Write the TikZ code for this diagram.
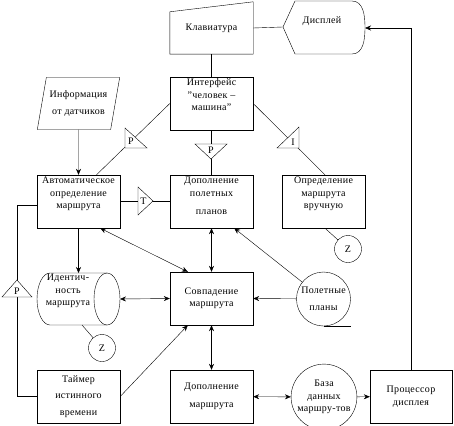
\documentclass[tikz,border=0pt]{standalone}
\usepackage{fontspec}
\setmainfont[LetterSpace=3]{Liberation Serif}
\usetikzlibrary{arrows.meta,shapes.geometric,positioning}

\tikzset{
  txt/.style={align=center, inner sep=1pt, font=\fontsize{10}{12.5}\selectfont},
  blk/.style={draw, minimum width=83pt, minimum height=53pt, txt},
  ring/.style={draw, circle, minimum size=54pt, inner sep=0pt, txt},
  zring/.style={draw, circle, minimum size=27pt, inner sep=0pt, txt},
  tri/.style={draw, fill=white},
  arr/.style={-{Stealth[length=6pt,width=5pt,inset=2pt]}},
  dbl/.style={{Stealth[length=6pt,width=5pt,inset=2pt]}-{Stealth[length=6pt,width=5pt,inset=2pt]}}
}

\begin{document}
\begin{tikzpicture}[x=1pt,y=-1pt]
	\useasboundingbox (0,0) rectangle (454,425);
	% keyboard and display
	\node[txt, minimum width=83pt, minimum height=52pt] (kbd) at (211.5,28) {Клавиатура};
	\draw (kbd.south west) -- ([yshift=-10pt]kbd.north west) -- (kbd.north east) -- (kbd.south east) -- cycle;
	\draw (283,27) -- (295,1) -- (352,1) to[out=0,in=90] (365,27.5) to[out=-90,in=0] (352,54) -- (295,54) -- cycle;
	\node[txt] (disp) at (322,21) {Дисплей};
	\coordinate (dispW) at (283,27);
	\coordinate (dispE) at (365,28);
	% blocks
	\node[blk] (iface) at (211.5,103.5) {};
	\node[txt, below=1pt of iface.north] (iface-t) {Интерфейс\\"человек --\\машина"};
	\node[txt, draw, trapezium, trapezium left angle=73, trapezium right angle=107, trapezium stretches=true, minimum width=83pt, minimum height=52pt] (info) at (78.5,103.5) {Информация\\[4pt]от датчиков};
	\node[blk] (auto) at (78.5,201.5) {};
	\node[txt, below=1pt of auto.north] (auto-t) {Автоматическое\\определение\\маршрута};
	\node[blk] (addfp) at (211.5,201.5) {};
	\node[txt, below=1pt of addfp.north] (addfp-t) {Дополнение\\полетных\\[6pt]планов};
	\node[blk] (manual) at (323.5,201.5) {};
	\node[txt, below=1pt of manual.north] (manual-t) {Определение\\маршрута\\вручную};
	\node[zring] (zm) at (348,249) {Z};
	% route identity store
	\draw (107,273) -- (50,273) arc[start angle=270, end angle=90, x radius=13, y radius=26] -- (107,325);
	\draw (107,299) ellipse[x radius=13, y radius=26];
	\node[txt] (cyl) at (68,291) {Идентич-\\ность\\маршрута};
	\coordinate (cylN) at (78.5,273);
	\coordinate (cylE) at (120,299);
	\coordinate (cylS) at (82,325);
	\node[zring] (zc) at (102,348) {Z};
	\node[blk] (match) at (211.5,298.5) {Совпадение\\маршрута};
	\node[ring] (fp) at (323.5,299) {Полетные\\[4pt]планы};
	\node[blk] (timer) at (78.5,396.5) {Таймер\\[4pt]истинного\\[4pt]времени};
	\node[blk] (addrt) at (211.5,396.5) {Дополнение\\[5pt]маршрута};
	\node[ring] (db) at (324,397) {База\\данных\\маршру-тов};
	\node[blk, minimum width=82pt] (proc) at (411,396.5) {Процессор\\дисплея};
	\draw (fp.south) -- ++(27,0);
	\draw (db.south) -- ++(27,0);
	% connectors
	\draw (kbd.east) -- (dispW);
	\draw (kbd) -- (iface);
	\draw[arr] (info) -- (auto);
	\draw (iface.west) -- ([xshift=18pt]auto.north);
	\draw (iface.east) -- ([xshift=1.5pt]manual.north);
	\draw (iface) -- (addfp);
	\draw (auto.east) -- (addfp.west);
	\draw ([xshift=1.5pt]manual.south) -- (zm);
	\draw[arr] (auto.south) -- (cylN);
	\draw[dbl] ([xshift=-20pt]auto.south east) -- ([xshift=18pt]match.north west);
	\draw[dbl] (addfp) -- (match);
	\draw[dbl] (cylE) -- (match.west);
	\draw (cylS) -- (zc);
	\draw[arr] (fp) -- ([xshift=-19pt]addfp.south east);
	\draw[arr] (fp) -- (match.east);
	\draw[arr] (timer.east) -- ([xshift=18pt]match.south west);
	\draw (timer.west) -- ++(-20,0) |- ([yshift=-4pt]auto.west);
	\draw[dbl] (match) -- (addrt);
	\draw[dbl] (addrt) -- (db);
	\draw[arr] (db) -- (proc);
	\draw[arr] (proc.north) |- (dispE);
	% markers on the lines
	\draw[tri] (125,128) -- (125,148) -- (147,148) -- cycle;
	\node[txt] (p-left) at (131,141) {P};
	\draw[tri] (195,144) -- (227,144) -- (211,159) -- cycle;
	\node[txt] (p-mid) at (211,150) {P};
	\draw[tri] (277,148) -- (299,148) -- (299,127) -- cycle;
	\node[txt] (i-right) at (293,142) {I};
	\draw[tri] (138,187) -- (138,215) -- (153,201) -- cycle;
	\node[txt] (t-mid) at (143.5,201) {T};
	\draw[tri] (2,297) -- (32,297) -- (17,280) -- cycle;
	\node[txt] (p-loop) at (17,291) {P};
\end{tikzpicture}
\end{document}
